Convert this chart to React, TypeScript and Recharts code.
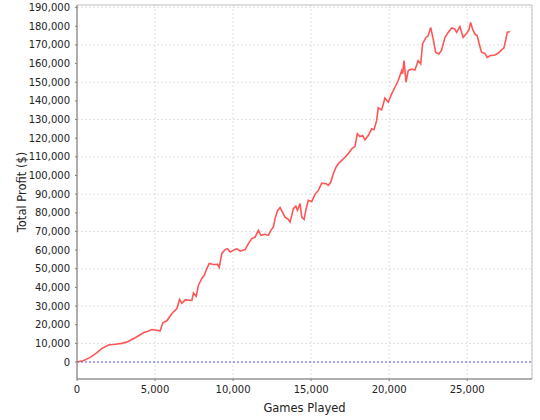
import { LineChart, Line, XAxis, YAxis, CartesianGrid, ReferenceLine, ReferenceArea } from "recharts";

// games played at each sampled point
const games = [
  0, 400, 850, 1280, 1600, 2020, 2450, 2880, 3200, 3730, 4260, 4580, 4800, 5330, 5500, 5760,
  6080, 6400, 6570, 6720, 6930, 7360, 7460, 7640, 7780, 8000, 8150, 8320, 8470, 8740, 9000,
  9110, 9280, 9490, 9640, 9810, 10240, 10450, 10770, 10980, 11200, 11410, 11620, 11780, 12050,
  12260, 12420, 12580, 12690, 12840, 13010, 13160, 13330, 13540, 13650, 13760, 13860, 14020,
  14120, 14290, 14400, 14550, 14680, 14820, 15040, 15250, 15460, 15680, 15960, 16100, 16260,
  16420, 16580, 16740, 16960, 17170, 17380, 17600, 17810, 17960, 18130, 18300, 18450, 18660,
  18880, 19030, 19200, 19300, 19520, 19730, 19940, 20160, 20370, 20580, 20800, 20860, 20950,
  21080, 21220, 21440, 21650, 21860, 22020, 22140, 22360, 22500, 22660, 22820, 22980, 23190,
  23360, 23570, 23780, 24000, 24210, 24320, 24530, 24740, 24960, 25110, 25220, 25340, 25490,
  25640, 25770, 25920, 26130, 26280, 26450, 26770, 26980, 27200, 27350, 27480, 27560, 27730,
];

// total profit ($) at each point
const profit = [
  0, 700, 2500, 5000, 7300, 9100, 9500, 10000, 10700, 13000, 15700, 16600, 17400, 16700, 21000, 22100,
  26000, 28700, 33500, 31500, 33300, 33000, 37000, 35300, 41200, 44800, 46500, 50100, 52800, 52300, 52400,
  50700, 58200, 60300, 60800, 59000, 60800, 59400, 60300, 63500, 66200, 67000, 70600, 67900, 68500,
  67900, 70600, 72400, 76900, 81000, 82800, 80400, 77700, 76500, 75100, 78600, 82200, 83500,
  81300, 84900, 77700, 76500, 82200, 86700, 86100, 89900, 92000, 95900, 95600, 94700, 96500,
  100900, 104200, 106300, 108100, 109800, 111700, 114300, 115600, 122400, 120900, 121400, 119100, 121400,
  125000, 124500, 129500, 136300, 135200, 141600, 139300, 143800, 147300, 150900, 156200, 154500, 161600,
  150000, 156200, 157100, 156600, 161600, 159800, 170500, 174000, 174900, 179400, 173100, 166000, 165200,
  167300, 174000, 176700, 179100, 178500, 176700, 179800, 174000, 176200, 178000, 182100, 178500, 175900,
  174900, 170500, 166000, 165500, 163300, 164200, 164600, 165500, 167300, 168400, 173100, 176700, 177200,
];

const xTicks = [0, 5000, 10000, 15000, 20000, 25000];
const yTicks = [0, 10000, 20000, 30000, 40000, 50000, 60000, 70000, 80000, 90000, 100000,
  110000, 120000, 130000, 140000, 150000, 160000, 170000, 180000, 190000];

const data = games.map((g, i) => ({ games: g, profit: profit[i] }));

const fmt = (v: number) => v.toLocaleString("en-US");
const tickStyle = { fontSize: 10, fill: "#222", fontFamily: "DejaVu Sans" };

export default function App() {
  return (
    <div style={{ position: "absolute", left: 0, top: 0, width: 540, height: 420, background: "#fff" }}>
      <LineChart width={540} height={420} data={data} margin={{ top: 5, right: 8, bottom: 0, left: 0 }}>
        <CartesianGrid stroke="#e0e0e0" strokeDasharray="2 2" />
        <ReferenceArea x1={0} x2={29150} y1={-9100} y2={191400} fill="none" stroke="#c4c4c4" strokeWidth={1} />
        <XAxis
          dataKey="games"
          type="number"
          domain={[0, 29150]}
          ticks={xTicks}
          tickFormatter={fmt}
          tick={tickStyle}
          tickSize={2}
          tickMargin={5}
          stroke="#808080"
          height={41}
          allowDataOverflow
          label={{ value: "Games Played", position: "insideBottom", offset: 8, style: { fontSize: 11.5, fill: "#222", fontFamily: "DejaVu Sans" } }}
        />
        <YAxis
          type="number"
          domain={[-9100, 191400]}
          ticks={yTicks}
          tickFormatter={fmt}
          tick={tickStyle}
          tickSize={2}
          tickMargin={5}
          stroke="#808080"
          width={77}
          allowDataOverflow
          label={{ value: "Total Profit ($)", angle: -90, position: "insideLeft", offset: 22, style: { fontSize: 11.5, fill: "#222", fontFamily: "DejaVu Sans", textAnchor: "middle" } }}
        />
        <ReferenceLine y={0} stroke="#4a4aff" strokeDasharray="2 2" />
        <Line
          type="linear"
          dataKey="profit"
          stroke="#ff5555"
          strokeWidth={1.6}
          dot={false}
          isAnimationActive={false}
        />
      </LineChart>
    </div>
  );
}
